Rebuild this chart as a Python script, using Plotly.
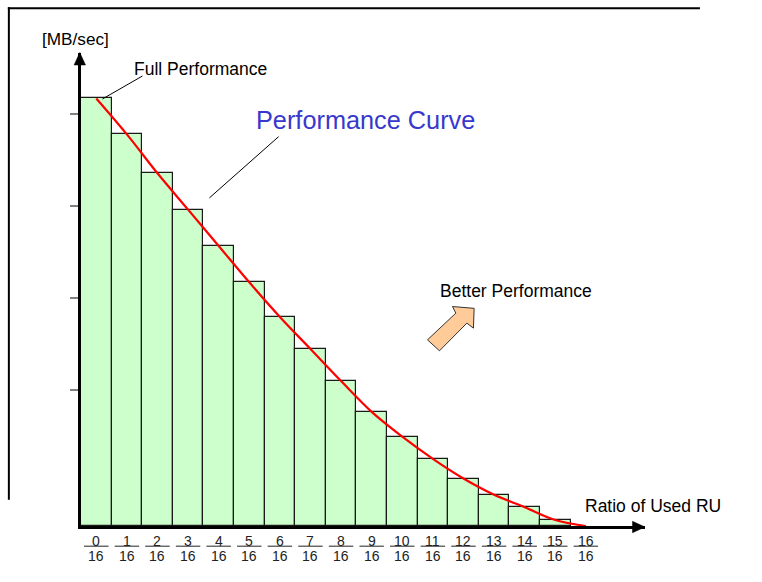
import plotly.graph_objects as go

# ---------------- data ----------------
categories = list(range(16))                      # bar index k -> ratio k/16
bar_values = [100, 91.6, 82.5, 74.0, 65.5, 57.0, 48.9, 41.4,
              33.9, 26.7, 20.9, 15.7, 11.1, 7.3, 4.4, 1.4]
curve_x = list(range(17))
curve_values = bar_values + [0]
tick_numerators = [str(i) for i in range(17)]
tick_denominator = "16"
ytick_values = [31.9, 53.4, 74.9, 96.4]

# ---------------- geometry ----------------
W, H = 762, 582
ML, MR, MT, MB = 80.5, 117, 53, 55.7
PW, PH = W - ML - MR, H - MT - MB
FONT = "Arial, Liberation Sans, sans-serif"


def xp(px):
    return (px - ML) / PW


def yp(py):
    return (H - MB - py) / PH


fig = go.Figure()
fig.add_trace(go.Bar(
    x=categories, y=bar_values, width=1,
    marker=dict(color="#CCFFCC", line=dict(color="#1a1a1a", width=1.2)),
    hoverinfo="skip", showlegend=False))
fig.add_trace(go.Scatter(
    x=curve_x, y=curve_values, mode="lines",
    line=dict(color="#FF0000", width=2.2, shape="spline", smoothing=1.0),
    hoverinfo="skip", showlegend=False))

shapes = []
annotations = []

# outer frame: only its top and left edges fall inside the picture
shapes.append(dict(type="line", xref="paper", yref="paper",
                   x0=xp(7.3), y0=yp(8.3), x1=xp(700), y1=yp(8.3),
                   line=dict(color="black", width=2)))
shapes.append(dict(type="line", xref="paper", yref="paper",
                   x0=xp(8.3), y0=yp(7.3), x1=xp(8.3), y1=yp(500),
                   line=dict(color="black", width=2)))

# arrow heads on the axes
shapes.append(dict(type="path", xref="paper", yref="paper",
                   path=f"M {xp(79.3)},{yp(52.5)} L {xp(73.6)},{yp(65)} L {xp(85)},{yp(65)} Z",
                   fillcolor="black", line=dict(color="black", width=0.5)))
shapes.append(dict(type="path", xref="paper", yref="paper",
                   path=f"M {xp(645)},{yp(527.3)} L {xp(632.5)},{yp(521.6)} L {xp(632.5)},{yp(533)} Z",
                   fillcolor="black", line=dict(color="black", width=0.5)))

# fraction tick labels
for k, num in enumerate(tick_numerators):
    annotations.append(dict(x=k, xref="x", y=yp(541.5), yref="paper",
                            text=num, showarrow=False, xanchor="center", yanchor="middle",
                            font=dict(family=FONT, size=14, color="#222")))
    annotations.append(dict(x=k, xref="x", y=yp(556), yref="paper",
                            text=tick_denominator, showarrow=False, xanchor="center", yanchor="middle",
                            font=dict(family=FONT, size=14, color="#222")))
    shapes.append(dict(type="line", xref="x", yref="paper",
                       x0=k - 0.4, x1=k + 0.4, y0=yp(546.5), y1=yp(546.5),
                       line=dict(color="#222", width=1)))

# text labels
def label(text, cx, cy, size, color="black"):
    annotations.append(dict(x=xp(cx), y=yp(cy), xref="paper", yref="paper",
                            text=text, showarrow=False, xanchor="center", yanchor="middle",
                            font=dict(family=FONT, size=size, color=color)))

label("[MB/sec]", 75, 38.5, 17.2)
label("Full Performance", 200, 69.5, 17.5)
label("Performance Curve", 365.5, 120, 25.3, "#3838CC")
label("Better Performance", 515.5, 291.5, 17.5)
label("Ratio of Used RU", 653.5, 506.5, 17.5)

# leader lines
shapes.append(dict(type="line", xref="paper", yref="paper",
                   x0=xp(102), y0=yp(99), x1=xp(142), y1=yp(76),
                   line=dict(color="black", width=1)))
shapes.append(dict(type="line", xref="paper", yref="paper",
                   x0=xp(278.3), y0=yp(136.7), x1=xp(209), y1=yp(198),
                   line=dict(color="black", width=1)))

# "Better Performance" block arrow
arrow_pts = [(427.3, 340), (455.7, 313.3), (452.3, 306.7), (474, 308.5),
             (473.3, 328.3), (466.7, 323.3), (439.3, 351)]
path = "M " + " L ".join(f"{xp(a)},{yp(b)}" for a, b in arrow_pts) + " Z"
shapes.append(dict(type="path", xref="paper", yref="paper", path=path,
                   fillcolor="#FFCC99", line=dict(color="#333", width=1)))

fig.update_layout(
    width=W, height=H,
    margin=dict(l=ML, r=MR, t=MT, b=MB, pad=0),
    paper_bgcolor="white", plot_bgcolor="white",
    bargap=0,
    shapes=shapes, annotations=annotations,
    xaxis=dict(range=[-0.5, -0.5 + PW / 30.625], showgrid=False, zeroline=False,
               showticklabels=False, ticks="", showline=True,
               linecolor="black", linewidth=2.5, fixedrange=True),
    yaxis=dict(range=[0, PH / 4.278], showgrid=False, zeroline=False,
               showticklabels=False, tickmode="array", tickvals=ytick_values,
               ticks="outside", ticklen=8, tickwidth=1.5, tickcolor="#808080",
               showline=True, linecolor="black", linewidth=2.5, fixedrange=True),
)

fig.write_html("out.html", config={"displayModeBar": False},
               post_script="document.body.style.margin='0';document.body.style.overflow='hidden';")
